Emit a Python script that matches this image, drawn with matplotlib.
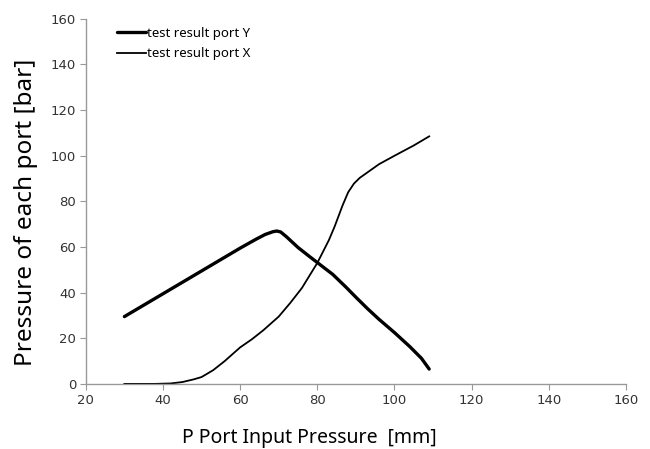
import numpy as np
import matplotlib
matplotlib.use("Agg")
import matplotlib.pyplot as plt

# test data
port_y_in = [30, 40, 50, 60, 64, 66.5, 68.5, 69.5, 70.5, 72, 75, 78, 80, 84, 87.5,
             90, 93, 96, 100, 104, 107, 109]
port_y_out = [29.5, 39.5, 49.5, 59.5, 63.3, 65.5, 66.7, 67, 66.6, 64.5, 59.8, 55.8,
              53.2, 48, 42.3, 38, 33, 28.3, 22.5, 16.3, 11.2, 6.5]

port_x_in = [30, 38, 42, 45, 48, 50, 53, 56, 60, 63, 66, 70, 73, 76, 80, 83, 84.5,
             86.5, 88, 89.5, 91, 93, 96, 100, 105, 109]
port_x_out = [0, 0, 0.2, 0.8, 2, 3, 6, 10, 16, 19.5, 23.5, 29.5, 35.5, 42, 53, 63,
              69, 78, 84, 87.8, 90.3, 92.7, 96.3, 100, 104.5, 108.5]

x_ticks = [20, 40, 60, 80, 100, 120, 140, 160]
y_ticks = [0, 20, 40, 60, 80, 100, 120, 140, 160]

tick_font = ["Liberation Sans Narrow", "DejaVu Sans"]
label_font = ["Noto Sans", "DejaVu Sans"]

fig = plt.figure(figsize=(6.5, 4.49), dpi=100)
ax = fig.add_axes([0.132, 0.145, 0.831, 0.813])

ax.plot(port_y_in, port_y_out, color="black", lw=2.4, label="test result port Y",
        solid_capstyle="round", solid_joinstyle="round")
ax.plot(port_x_in, port_x_out, color="black", lw=1.3, label="test result port X",
        solid_joinstyle="round")

ax.set_xlim(20, 160)
ax.set_ylim(0, 160)
ax.set_xticks(x_ticks)
ax.set_yticks(y_ticks)

for s in ["top", "right"]:
    ax.spines[s].set_visible(False)
for s in ["left", "bottom"]:
    ax.spines[s].set_color("#999999")
    ax.spines[s].set_linewidth(1.0)

ax.tick_params(axis="both", direction="out", length=4, width=0.8, color="#999999",
               labelsize=9.5, labelcolor="#333333", pad=3)
for lab in ax.get_xticklabels() + ax.get_yticklabels():
    lab.set_family(tick_font)

ax.set_xlabel("P Port Input Pressure  [mm]", fontsize=14, family=label_font)
ax.xaxis.set_label_coords(0.413, -0.12)
ax.set_ylabel("Pressure of each port [bar]", fontsize=17.5, family=label_font)
ax.yaxis.set_label_coords(-0.088, 0.47)

leg = ax.legend(loc="upper left", bbox_to_anchor=(0.035, 1.01), frameon=False,
                fontsize=9.5, handlelength=2.2, handletextpad=0.1, labelspacing=0.55)
for t in leg.get_texts():
    t.set_family(label_font)

fig.savefig("out.png", dpi=100)
